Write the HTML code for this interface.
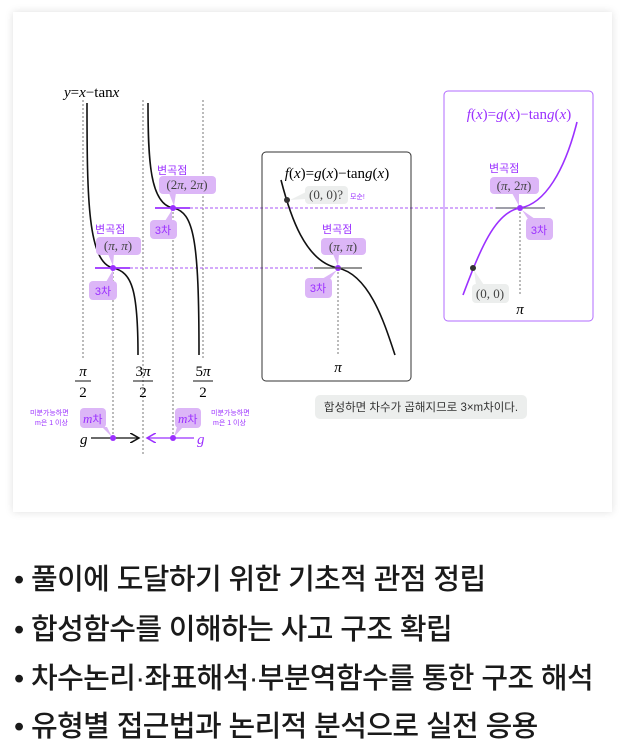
<!DOCTYPE html>
<html><head><meta charset="utf-8"><style>
body{margin:0;width:635px;height:742px;background:#fff;overflow:hidden;font-family:"Liberation Sans","Noto Sans CJK KR",sans-serif;}
.card{position:absolute;left:13px;top:12px;width:599px;height:500px;background:#fff;box-shadow:0 0 8px rgba(0,0,0,0.13);}
svg{position:absolute;left:0;top:0;}
.b{position:absolute;left:14px;font-size:29px;color:#1a1a1a;line-height:34px;letter-spacing:-0.6px;white-space:nowrap;font-weight:500;}
</style></head><body>
<div class="card"></div>
<svg width="635" height="742" viewBox="0 0 635 742" font-family="Liberation Serif, serif">
<defs>
<marker id="ab" markerWidth="8" markerHeight="8" refX="7" refY="4" orient="auto"><path d="M0,0 L7,4 L0,8" fill="none" stroke="#111" stroke-width="1.2"/></marker>
<marker id="ap" markerWidth="8" markerHeight="8" refX="7" refY="4" orient="auto"><path d="M0,0 L7,4 L0,8" fill="none" stroke="#9b30ff" stroke-width="1.2"/></marker>
</defs>
<g stroke="#777" stroke-width="1" stroke-dasharray="2,2">
<line x1="83" y1="100" x2="83" y2="358"/><line x1="143" y1="100" x2="143" y2="455"/><line x1="203" y1="100" x2="203" y2="358"/>
<line x1="113" y1="268" x2="113" y2="438"/><line x1="173" y1="208" x2="173" y2="438"/>
<line x1="338" y1="268" x2="338" y2="355"/><line x1="520" y1="208" x2="520" y2="296"/>
</g>
<g stroke="#a855f7" stroke-width="1" stroke-dasharray="3,2">
<line x1="130" y1="268" x2="314" y2="268"/><line x1="190" y1="208" x2="496" y2="208"/>
</g>
<text x="64" y="97" font-size="15" font-style="italic">y<tspan font-style="normal">=</tspan>x<tspan font-style="normal">−tan</tspan>x</text>
<g fill="none" stroke="#111" stroke-width="1.6">
<path d="M87,103 C87,200 88,262 113,268 C132,272 138,290 138,355"/>
<path d="M148,103 C148,160 150,204 173,208 C194,212 199,240 199,355"/>
<path d="M281,180 C290,215 305,262 338,268 C370,275 385,325 395,355"/>
</g>
<g stroke="#9b30ff" stroke-width="1.8"><line x1="95" y1="268" x2="130" y2="268"/><line x1="155" y1="208" x2="190" y2="208"/></g>
<g font-size="15" text-anchor="middle">
<text x="83" y="376" font-style="italic">π</text><line x1="75" y1="381" x2="91" y2="381" stroke="#111"/><text x="83" y="397">2</text>
<text x="143" y="376">3<tspan font-style="italic">π</tspan></text><line x1="133" y1="381" x2="153" y2="381" stroke="#111"/><text x="143" y="397">2</text>
<text x="203" y="376">5<tspan font-style="italic">π</tspan></text><line x1="193" y1="381" x2="213" y2="381" stroke="#111"/><text x="203" y="397">2</text>
</g>
<g fill="#dcb6f7">
<rect x="96" y="237" width="45" height="18" rx="4"/><path d="M108,254 L114,254 L113,266 Z"/>
<rect x="89" y="281" width="28" height="19" rx="4"/><path d="M106,282 L113,282 L113,270 Z"/>
<rect x="159" y="176" width="57" height="18" rx="4"/><path d="M169,193 L176,193 L174,206 Z"/>
<rect x="150" y="220" width="27" height="19" rx="4"/><path d="M165,221 L172,221 L172,210 Z"/>
<rect x="80" y="408" width="26" height="20" rx="4"/><path d="M102,427 L107,427 L112,437 Z"/>
<rect x="175" y="408" width="26" height="20" rx="4"/><path d="M177,427 L183,427 L174,437 Z"/>
<rect x="321" y="238" width="45" height="17" rx="4"/><path d="M333,254 L339,254 L338,266 Z"/>
<rect x="305" y="278" width="27" height="20" rx="4"/><path d="M322,279 L330,279 L337,270 Z"/>
<rect x="490" y="177" width="49" height="17" rx="4"/><path d="M512,193 L519,193 L519,206 Z"/>
<rect x="526" y="218" width="27" height="22" rx="4"/><path d="M528,219 L535,219 L522,210 Z"/>
</g>
<g fill="#eceeed">
<rect x="305" y="186" width="43" height="18" rx="4"/><path d="M306,192 L306,199 L290,200 Z"/>
<rect x="472" y="284" width="37" height="19" rx="4"/><path d="M476,285 L484,285 L474,270 Z"/>
<rect x="315" y="395" width="212" height="24" rx="5"/>
</g>
<g font-family="Liberation Sans, Noto Sans CJK KR, sans-serif" fill="#9b30ff" font-size="11">
<text x="95" y="233">변곡점</text><text x="157" y="174">변곡점</text><text x="322" y="233">변곡점</text><text x="489" y="172">변곡점</text>
</g>
<g font-family="Liberation Sans, Noto Sans CJK KR, sans-serif" fill="#9b30ff" font-size="11" text-anchor="middle">
<text x="103" y="295">3차</text><text x="163" y="234">3차</text><text x="318" y="292">3차</text><text x="539" y="234">3차</text>
</g>
<g font-size="13" fill="#444" text-anchor="middle">
<text x="118" y="250">(<tspan font-style="italic">π</tspan>, <tspan font-style="italic">π</tspan>)</text>
<text x="187" y="189">(2<tspan font-style="italic">π</tspan>, 2<tspan font-style="italic">π</tspan>)</text>
<text x="343" y="251">(<tspan font-style="italic">π</tspan>, <tspan font-style="italic">π</tspan>)</text>
<text x="514" y="190">(<tspan font-style="italic">π</tspan>, 2<tspan font-style="italic">π</tspan>)</text>
<text x="326" y="199">(0, 0)?</text>
<text x="490" y="298">(0, 0)</text>
</g>
<text x="83" y="423" font-size="13" fill="#9b30ff"><tspan font-style="italic">m</tspan><tspan font-family="Liberation Sans, Noto Sans CJK KR, sans-serif" font-size="11">차</tspan></text>
<text x="178" y="423" font-size="13" fill="#9b30ff"><tspan font-style="italic">m</tspan><tspan font-family="Liberation Sans, Noto Sans CJK KR, sans-serif" font-size="11">차</tspan></text>
<g font-family="Liberation Sans, Noto Sans CJK KR, sans-serif" fill="#9b30ff" font-size="7">
<text x="30" y="415">미분가능하면</text><text x="35" y="425">m은 1 이상</text>
<text x="211" y="415">미분가능하면</text><text x="213" y="425">m은 1 이상</text>
<text x="350" y="199">모순!</text>
</g>
<text x="80" y="444" font-size="15" font-style="italic">g</text>
<line x1="91" y1="438" x2="139" y2="438" stroke="#111" stroke-width="1.3" marker-end="url(#ab)"/>
<text x="197" y="444" font-size="15" font-style="italic" fill="#9b30ff">g</text>
<line x1="194" y1="438" x2="147" y2="438" stroke="#9b30ff" stroke-width="1.3" marker-end="url(#ap)"/>
<g fill="#9b30ff"><circle cx="113" cy="438" r="3"/><circle cx="173" cy="438" r="3"/><circle cx="113" cy="268" r="3"/><circle cx="173" cy="208" r="3"/><circle cx="338" cy="268" r="3"/></g>
<rect x="262" y="152" width="149" height="229" rx="4" fill="none" stroke="#333" stroke-width="1"/>
<text x="337" y="178" font-size="15" text-anchor="middle"><tspan font-style="italic">f</tspan>(<tspan font-style="italic">x</tspan>)=<tspan font-style="italic">g</tspan>(<tspan font-style="italic">x</tspan>)−tan<tspan font-style="italic">g</tspan>(<tspan font-style="italic">x</tspan>)</text>
<line x1="314" y1="268" x2="362" y2="268" stroke="#555" stroke-width="1.2"/>
<circle cx="287" cy="200" r="3" fill="#333"/>
<text x="338" y="372" font-size="15" font-style="italic" text-anchor="middle">π</text>
<rect x="444" y="91" width="149" height="230" rx="4" fill="none" stroke="#b26bff" stroke-width="1"/>
<text x="519" y="119" font-size="15" text-anchor="middle" fill="#9b30ff"><tspan font-style="italic">f</tspan>(<tspan font-style="italic">x</tspan>)=<tspan font-style="italic">g</tspan>(<tspan font-style="italic">x</tspan>)−tan<tspan font-style="italic">g</tspan>(<tspan font-style="italic">x</tspan>)</text>
<line x1="496" y1="208" x2="545" y2="208" stroke="#667" stroke-width="1.2"/>
<path d="M463,295 C480,250 495,212 520,208 C545,204 565,170 577,122" fill="none" stroke="#9b30ff" stroke-width="1.6"/>
<circle cx="520" cy="208" r="3" fill="#9b30ff"/><circle cx="473" cy="268" r="3" fill="#333"/>
<text x="520" y="314" font-size="15" font-style="italic" text-anchor="middle">π</text>
<text x="421" y="411" font-family="Liberation Sans, Noto Sans CJK KR, sans-serif" font-size="11.5" fill="#333" text-anchor="middle">합성하면 차수가 곱해지므로 3×m차이다.</text>
</svg>
<div class="b" style="top:563px">• 풀이에 도달하기 위한 기초적 관점 정립</div>
<div class="b" style="top:613px">• 합성함수를 이해하는 사고 구조 확립</div>
<div class="b" style="top:662px">• 차수논리·좌표해석·부분역함수를 통한 구조 해석</div>
<div class="b" style="top:710px">• 유형별 접근법과 논리적 분석으로 실전 응용</div>
</body></html>
